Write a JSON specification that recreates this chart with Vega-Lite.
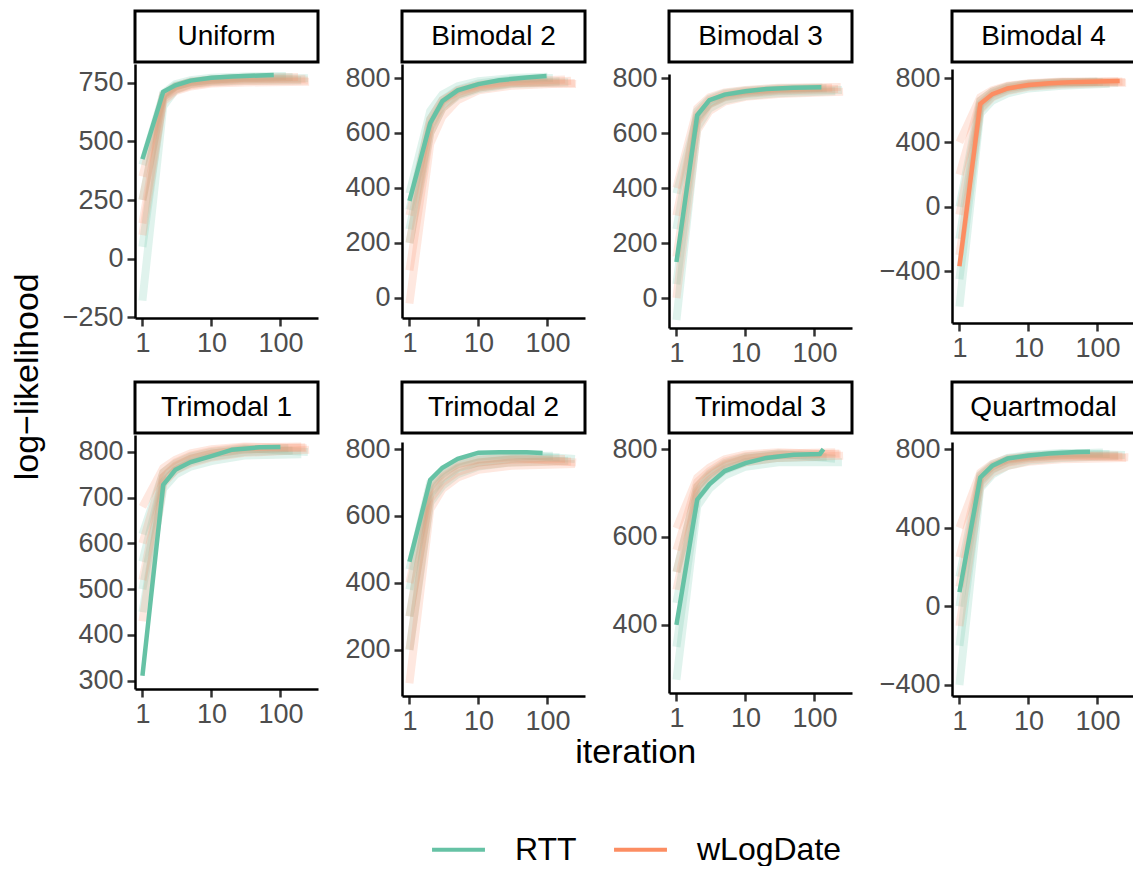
{
"$schema": "https://vega.github.io/schema/vega-lite/v6.json",
"padding": {"left": 10, "top": 9, "right": 0, "bottom": 0},
"background": "white",
"config": {
 "font": "Liberation Sans",
 "view": {"stroke": null},
 "concat": {"spacing": 20},
 "axis": {"grid": false, "domainColor": "#000000", "domainWidth": 2.5, "tickColor": "#333333", "tickWidth": 2.5, "tickSize": 8, "labelFont": "Liberation Sans", "labelFontSize": 27, "labelColor": "#4d4d4d", "labelPadding": 4, "labelFlush": false, "labelOverlap": false},
 "legend": {"symbolType": "stroke", "symbolSize": 2800, "symbolStrokeWidth": 4, "symbolOpacity": 1, "labelFont": "Liberation Sans", "labelFontSize": 32, "labelColor": "#000000", "labelOffset": 28, "columnPadding": 29},
 "title": {"font": "Liberation Sans", "fontSize": 34, "fontWeight": "normal", "color": "#000000"}
},
"datasets": {
 "strips": [{"p":"U","n":"Uniform"},{"p":"B2","n":"Bimodal 2"},{"p":"B3","n":"Bimodal 3"},{"p":"B4","n":"Bimodal 4"},{"p":"T1","n":"Trimodal 1"},{"p":"T2","n":"Trimodal 2"},{"p":"T3","n":"Trimodal 3"},{"p":"Q","n":"Quartmodal"}],
 "best": [
  {"p":"U","m":"RTT","i":1,"v":425},{"p":"U","m":"RTT","i":2,"v":712},{"p":"U","m":"RTT","i":3,"v":740},{"p":"U","m":"RTT","i":5,"v":760},{"p":"U","m":"RTT","i":10,"v":772},{"p":"U","m":"RTT","i":20,"v":778},{"p":"U","m":"RTT","i":50,"v":782},{"p":"U","m":"RTT","i":80,"v":784},
  {"p":"B2","m":"RTT","i":1,"v":353},{"p":"B2","m":"RTT","i":2,"v":636},{"p":"B2","m":"RTT","i":3,"v":716},{"p":"B2","m":"RTT","i":5,"v":755},{"p":"B2","m":"RTT","i":10,"v":778},{"p":"B2","m":"RTT","i":20,"v":792},{"p":"B2","m":"RTT","i":50,"v":802},{"p":"B2","m":"RTT","i":97,"v":807},
  {"p":"B3","m":"RTT","i":1,"v":131},{"p":"B3","m":"RTT","i":2,"v":665},{"p":"B3","m":"RTT","i":3,"v":720},{"p":"B3","m":"RTT","i":5,"v":740},{"p":"B3","m":"RTT","i":10,"v":752},{"p":"B3","m":"RTT","i":20,"v":760},{"p":"B3","m":"RTT","i":50,"v":765},{"p":"B3","m":"RTT","i":126,"v":767},
  {"p":"B4","m":"wLogDate","i":1,"v":-369},{"p":"B4","m":"wLogDate","i":2,"v":639},{"p":"B4","m":"wLogDate","i":3,"v":700},{"p":"B4","m":"wLogDate","i":5,"v":735},{"p":"B4","m":"wLogDate","i":10,"v":757},{"p":"B4","m":"wLogDate","i":20,"v":768},{"p":"B4","m":"wLogDate","i":50,"v":776},{"p":"B4","m":"wLogDate","i":210,"v":781},
  {"p":"T1","m":"RTT","i":1,"v":311},{"p":"T1","m":"RTT","i":2,"v":728},{"p":"T1","m":"RTT","i":3,"v":761},{"p":"T1","m":"RTT","i":5,"v":778},{"p":"T1","m":"RTT","i":10,"v":791},{"p":"T1","m":"RTT","i":20,"v":805},{"p":"T1","m":"RTT","i":50,"v":810},{"p":"T1","m":"RTT","i":100,"v":811},
  {"p":"T2","m":"RTT","i":1,"v":463},{"p":"T2","m":"RTT","i":2,"v":708},{"p":"T2","m":"RTT","i":3,"v":744},{"p":"T2","m":"RTT","i":5,"v":771},{"p":"T2","m":"RTT","i":10,"v":789},{"p":"T2","m":"RTT","i":20,"v":790},{"p":"T2","m":"RTT","i":50,"v":790},{"p":"T2","m":"RTT","i":85,"v":788},
  {"p":"T3","m":"RTT","i":1,"v":400},{"p":"T3","m":"RTT","i":2,"v":685},{"p":"T3","m":"RTT","i":3,"v":720},{"p":"T3","m":"RTT","i":5,"v":750},{"p":"T3","m":"RTT","i":10,"v":768},{"p":"T3","m":"RTT","i":20,"v":780},{"p":"T3","m":"RTT","i":50,"v":787},{"p":"T3","m":"RTT","i":120,"v":789},{"p":"T3","m":"RTT","i":135,"v":800},
  {"p":"Q","m":"RTT","i":1,"v":72},{"p":"Q","m":"RTT","i":2,"v":655},{"p":"Q","m":"RTT","i":3,"v":716},{"p":"Q","m":"RTT","i":5,"v":752},{"p":"Q","m":"RTT","i":10,"v":767},{"p":"Q","m":"RTT","i":20,"v":777},{"p":"Q","m":"RTT","i":50,"v":785},{"p":"Q","m":"RTT","i":78,"v":787}
 ],
 "runs": [
  {"p":"U","m":"RTT","r":1,"i":1,"v":-180},{"p":"U","m":"RTT","r":1,"i":2,"v":650},{"p":"U","m":"RTT","r":1,"i":3,"v":720},{"p":"U","m":"RTT","r":1,"i":5,"v":745},{"p":"U","m":"RTT","r":1,"i":10,"v":755},{"p":"U","m":"RTT","r":1,"i":30,"v":760},{"p":"U","m":"RTT","r":1,"i":200,"v":762},
  {"p":"U","m":"RTT","r":2,"i":1,"v":50},{"p":"U","m":"RTT","r":2,"i":2,"v":690},{"p":"U","m":"RTT","r":2,"i":3,"v":735},{"p":"U","m":"RTT","r":2,"i":5,"v":755},{"p":"U","m":"RTT","r":2,"i":10,"v":765},{"p":"U","m":"RTT","r":2,"i":30,"v":772},{"p":"U","m":"RTT","r":2,"i":150,"v":775},
  {"p":"U","m":"RTT","r":3,"i":1,"v":250},{"p":"U","m":"RTT","r":3,"i":2,"v":705},{"p":"U","m":"RTT","r":3,"i":3,"v":745},{"p":"U","m":"RTT","r":3,"i":5,"v":762},{"p":"U","m":"RTT","r":3,"i":10,"v":772},{"p":"U","m":"RTT","r":3,"i":30,"v":778},{"p":"U","m":"RTT","r":3,"i":120,"v":780},
  {"p":"U","m":"RTT","r":4,"i":1,"v":400},{"p":"U","m":"RTT","r":4,"i":2,"v":700},{"p":"U","m":"RTT","r":4,"i":3,"v":738},{"p":"U","m":"RTT","r":4,"i":5,"v":752},{"p":"U","m":"RTT","r":4,"i":10,"v":762},{"p":"U","m":"RTT","r":4,"i":30,"v":768},{"p":"U","m":"RTT","r":4,"i":250,"v":770},
  {"p":"U","m":"wLogDate","r":5,"i":1,"v":100},{"p":"U","m":"wLogDate","r":5,"i":2,"v":670},{"p":"U","m":"wLogDate","r":5,"i":3,"v":715},{"p":"U","m":"wLogDate","r":5,"i":5,"v":735},{"p":"U","m":"wLogDate","r":5,"i":10,"v":748},{"p":"U","m":"wLogDate","r":5,"i":30,"v":752},{"p":"U","m":"wLogDate","r":5,"i":260,"v":755},
  {"p":"U","m":"wLogDate","r":6,"i":1,"v":250},{"p":"U","m":"wLogDate","r":6,"i":2,"v":690},{"p":"U","m":"wLogDate","r":6,"i":3,"v":725},{"p":"U","m":"wLogDate","r":6,"i":5,"v":745},{"p":"U","m":"wLogDate","r":6,"i":10,"v":758},{"p":"U","m":"wLogDate","r":6,"i":30,"v":765},{"p":"U","m":"wLogDate","r":6,"i":230,"v":768},
  {"p":"U","m":"wLogDate","r":7,"i":1,"v":350},{"p":"U","m":"wLogDate","r":7,"i":2,"v":700},{"p":"U","m":"wLogDate","r":7,"i":3,"v":735},{"p":"U","m":"wLogDate","r":7,"i":5,"v":755},{"p":"U","m":"wLogDate","r":7,"i":10,"v":765},{"p":"U","m":"wLogDate","r":7,"i":30,"v":772},{"p":"U","m":"wLogDate","r":7,"i":180,"v":775},
  {"p":"U","m":"wLogDate","r":8,"i":1,"v":150},{"p":"U","m":"wLogDate","r":8,"i":2,"v":680},{"p":"U","m":"wLogDate","r":8,"i":3,"v":720},{"p":"U","m":"wLogDate","r":8,"i":5,"v":740},{"p":"U","m":"wLogDate","r":8,"i":10,"v":752},{"p":"U","m":"wLogDate","r":8,"i":30,"v":758},{"p":"U","m":"wLogDate","r":8,"i":250,"v":760},

  {"p":"B2","m":"RTT","r":1,"i":1,"v":250},{"p":"B2","m":"RTT","r":1,"i":2,"v":620},{"p":"B2","m":"RTT","r":1,"i":3,"v":700},{"p":"B2","m":"RTT","r":1,"i":5,"v":740},{"p":"B2","m":"RTT","r":1,"i":10,"v":765},{"p":"B2","m":"RTT","r":1,"i":30,"v":782},{"p":"B2","m":"RTT","r":1,"i":150,"v":788},
  {"p":"B2","m":"RTT","r":2,"i":1,"v":320},{"p":"B2","m":"RTT","r":2,"i":2,"v":650},{"p":"B2","m":"RTT","r":2,"i":3,"v":720},{"p":"B2","m":"RTT","r":2,"i":5,"v":758},{"p":"B2","m":"RTT","r":2,"i":10,"v":780},{"p":"B2","m":"RTT","r":2,"i":30,"v":795},{"p":"B2","m":"RTT","r":2,"i":120,"v":800},
  {"p":"B2","m":"RTT","r":3,"i":1,"v":380},{"p":"B2","m":"RTT","r":3,"i":2,"v":680},{"p":"B2","m":"RTT","r":3,"i":3,"v":740},{"p":"B2","m":"RTT","r":3,"i":5,"v":770},{"p":"B2","m":"RTT","r":3,"i":10,"v":788},{"p":"B2","m":"RTT","r":3,"i":30,"v":800},{"p":"B2","m":"RTT","r":3,"i":100,"v":805},
  {"p":"B2","m":"RTT","r":4,"i":1,"v":200},{"p":"B2","m":"RTT","r":4,"i":2,"v":600},{"p":"B2","m":"RTT","r":4,"i":3,"v":690},{"p":"B2","m":"RTT","r":4,"i":5,"v":735},{"p":"B2","m":"RTT","r":4,"i":10,"v":760},{"p":"B2","m":"RTT","r":4,"i":30,"v":778},{"p":"B2","m":"RTT","r":4,"i":200,"v":785},
  {"p":"B2","m":"wLogDate","r":5,"i":1,"v":-20},{"p":"B2","m":"wLogDate","r":5,"i":2,"v":560},{"p":"B2","m":"wLogDate","r":5,"i":3,"v":660},{"p":"B2","m":"wLogDate","r":5,"i":5,"v":720},{"p":"B2","m":"wLogDate","r":5,"i":10,"v":755},{"p":"B2","m":"wLogDate","r":5,"i":30,"v":772},{"p":"B2","m":"wLogDate","r":5,"i":250,"v":782},
  {"p":"B2","m":"wLogDate","r":6,"i":1,"v":100},{"p":"B2","m":"wLogDate","r":6,"i":2,"v":600},{"p":"B2","m":"wLogDate","r":6,"i":3,"v":690},{"p":"B2","m":"wLogDate","r":6,"i":5,"v":740},{"p":"B2","m":"wLogDate","r":6,"i":10,"v":765},{"p":"B2","m":"wLogDate","r":6,"i":30,"v":780},{"p":"B2","m":"wLogDate","r":6,"i":220,"v":790},
  {"p":"B2","m":"wLogDate","r":7,"i":1,"v":200},{"p":"B2","m":"wLogDate","r":7,"i":2,"v":630},{"p":"B2","m":"wLogDate","r":7,"i":3,"v":710},{"p":"B2","m":"wLogDate","r":7,"i":5,"v":755},{"p":"B2","m":"wLogDate","r":7,"i":10,"v":775},{"p":"B2","m":"wLogDate","r":7,"i":30,"v":788},{"p":"B2","m":"wLogDate","r":7,"i":180,"v":795},
  {"p":"B2","m":"wLogDate","r":8,"i":1,"v":300},{"p":"B2","m":"wLogDate","r":8,"i":2,"v":650},{"p":"B2","m":"wLogDate","r":8,"i":3,"v":720},{"p":"B2","m":"wLogDate","r":8,"i":5,"v":750},{"p":"B2","m":"wLogDate","r":8,"i":10,"v":770},{"p":"B2","m":"wLogDate","r":8,"i":30,"v":785},{"p":"B2","m":"wLogDate","r":8,"i":260,"v":778},

  {"p":"B3","m":"RTT","r":1,"i":1,"v":-80},{"p":"B3","m":"RTT","r":1,"i":2,"v":620},{"p":"B3","m":"RTT","r":1,"i":3,"v":690},{"p":"B3","m":"RTT","r":1,"i":5,"v":720},{"p":"B3","m":"RTT","r":1,"i":10,"v":735},{"p":"B3","m":"RTT","r":1,"i":30,"v":745},{"p":"B3","m":"RTT","r":1,"i":200,"v":752},
  {"p":"B3","m":"RTT","r":2,"i":1,"v":50},{"p":"B3","m":"RTT","r":2,"i":2,"v":650},{"p":"B3","m":"RTT","r":2,"i":3,"v":710},{"p":"B3","m":"RTT","r":2,"i":5,"v":735},{"p":"B3","m":"RTT","r":2,"i":10,"v":748},{"p":"B3","m":"RTT","r":2,"i":30,"v":758},{"p":"B3","m":"RTT","r":2,"i":150,"v":763},
  {"p":"B3","m":"RTT","r":3,"i":1,"v":250},{"p":"B3","m":"RTT","r":3,"i":2,"v":680},{"p":"B3","m":"RTT","r":3,"i":3,"v":725},{"p":"B3","m":"RTT","r":3,"i":5,"v":745},{"p":"B3","m":"RTT","r":3,"i":10,"v":755},{"p":"B3","m":"RTT","r":3,"i":30,"v":763},{"p":"B3","m":"RTT","r":3,"i":130,"v":766},
  {"p":"B3","m":"RTT","r":4,"i":1,"v":380},{"p":"B3","m":"RTT","r":4,"i":2,"v":660},{"p":"B3","m":"RTT","r":4,"i":3,"v":705},{"p":"B3","m":"RTT","r":4,"i":5,"v":730},{"p":"B3","m":"RTT","r":4,"i":10,"v":742},{"p":"B3","m":"RTT","r":4,"i":30,"v":752},{"p":"B3","m":"RTT","r":4,"i":250,"v":757},
  {"p":"B3","m":"wLogDate","r":5,"i":1,"v":0},{"p":"B3","m":"wLogDate","r":5,"i":2,"v":610},{"p":"B3","m":"wLogDate","r":5,"i":3,"v":680},{"p":"B3","m":"wLogDate","r":5,"i":5,"v":715},{"p":"B3","m":"wLogDate","r":5,"i":10,"v":732},{"p":"B3","m":"wLogDate","r":5,"i":30,"v":742},{"p":"B3","m":"wLogDate","r":5,"i":260,"v":750},
  {"p":"B3","m":"wLogDate","r":6,"i":1,"v":150},{"p":"B3","m":"wLogDate","r":6,"i":2,"v":640},{"p":"B3","m":"wLogDate","r":6,"i":3,"v":705},{"p":"B3","m":"wLogDate","r":6,"i":5,"v":732},{"p":"B3","m":"wLogDate","r":6,"i":10,"v":745},{"p":"B3","m":"wLogDate","r":6,"i":30,"v":755},{"p":"B3","m":"wLogDate","r":6,"i":220,"v":760},
  {"p":"B3","m":"wLogDate","r":7,"i":1,"v":300},{"p":"B3","m":"wLogDate","r":7,"i":2,"v":670},{"p":"B3","m":"wLogDate","r":7,"i":3,"v":720},{"p":"B3","m":"wLogDate","r":7,"i":5,"v":742},{"p":"B3","m":"wLogDate","r":7,"i":10,"v":752},{"p":"B3","m":"wLogDate","r":7,"i":30,"v":760},{"p":"B3","m":"wLogDate","r":7,"i":180,"v":765},
  {"p":"B3","m":"wLogDate","r":8,"i":1,"v":400},{"p":"B3","m":"wLogDate","r":8,"i":2,"v":690},{"p":"B3","m":"wLogDate","r":8,"i":3,"v":730},{"p":"B3","m":"wLogDate","r":8,"i":5,"v":748},{"p":"B3","m":"wLogDate","r":8,"i":10,"v":757},{"p":"B3","m":"wLogDate","r":8,"i":30,"v":765},{"p":"B3","m":"wLogDate","r":8,"i":240,"v":768},

  {"p":"B4","m":"RTT","r":1,"i":1,"v":-620},{"p":"B4","m":"RTT","r":1,"i":2,"v":580},{"p":"B4","m":"RTT","r":1,"i":3,"v":660},{"p":"B4","m":"RTT","r":1,"i":5,"v":705},{"p":"B4","m":"RTT","r":1,"i":10,"v":735},{"p":"B4","m":"RTT","r":1,"i":30,"v":752},{"p":"B4","m":"RTT","r":1,"i":150,"v":765},
  {"p":"B4","m":"RTT","r":2,"i":1,"v":-450},{"p":"B4","m":"RTT","r":2,"i":2,"v":610},{"p":"B4","m":"RTT","r":2,"i":3,"v":685},{"p":"B4","m":"RTT","r":2,"i":5,"v":725},{"p":"B4","m":"RTT","r":2,"i":10,"v":750},{"p":"B4","m":"RTT","r":2,"i":30,"v":765},{"p":"B4","m":"RTT","r":2,"i":120,"v":775},
  {"p":"B4","m":"RTT","r":3,"i":1,"v":-200},{"p":"B4","m":"RTT","r":3,"i":2,"v":640},{"p":"B4","m":"RTT","r":3,"i":3,"v":705},{"p":"B4","m":"RTT","r":3,"i":5,"v":740},{"p":"B4","m":"RTT","r":3,"i":10,"v":760},{"p":"B4","m":"RTT","r":3,"i":30,"v":772},{"p":"B4","m":"RTT","r":3,"i":100,"v":778},
  {"p":"B4","m":"RTT","r":4,"i":1,"v":0},{"p":"B4","m":"RTT","r":4,"i":2,"v":660},{"p":"B4","m":"RTT","r":4,"i":3,"v":715},{"p":"B4","m":"RTT","r":4,"i":5,"v":748},{"p":"B4","m":"RTT","r":4,"i":10,"v":765},{"p":"B4","m":"RTT","r":4,"i":30,"v":776},{"p":"B4","m":"RTT","r":4,"i":200,"v":770},
  {"p":"B4","m":"wLogDate","r":5,"i":1,"v":-300},{"p":"B4","m":"wLogDate","r":5,"i":2,"v":600},{"p":"B4","m":"wLogDate","r":5,"i":3,"v":680},{"p":"B4","m":"wLogDate","r":5,"i":5,"v":720},{"p":"B4","m":"wLogDate","r":5,"i":10,"v":745},{"p":"B4","m":"wLogDate","r":5,"i":30,"v":760},{"p":"B4","m":"wLogDate","r":5,"i":260,"v":770},
  {"p":"B4","m":"wLogDate","r":6,"i":1,"v":-50},{"p":"B4","m":"wLogDate","r":6,"i":2,"v":630},{"p":"B4","m":"wLogDate","r":6,"i":3,"v":700},{"p":"B4","m":"wLogDate","r":6,"i":5,"v":735},{"p":"B4","m":"wLogDate","r":6,"i":10,"v":757},{"p":"B4","m":"wLogDate","r":6,"i":30,"v":770},{"p":"B4","m":"wLogDate","r":6,"i":230,"v":778},
  {"p":"B4","m":"wLogDate","r":7,"i":1,"v":200},{"p":"B4","m":"wLogDate","r":7,"i":2,"v":660},{"p":"B4","m":"wLogDate","r":7,"i":3,"v":715},{"p":"B4","m":"wLogDate","r":7,"i":5,"v":748},{"p":"B4","m":"wLogDate","r":7,"i":10,"v":765},{"p":"B4","m":"wLogDate","r":7,"i":30,"v":776},{"p":"B4","m":"wLogDate","r":7,"i":200,"v":780},
  {"p":"B4","m":"wLogDate","r":8,"i":1,"v":400},{"p":"B4","m":"wLogDate","r":8,"i":2,"v":680},{"p":"B4","m":"wLogDate","r":8,"i":3,"v":725},{"p":"B4","m":"wLogDate","r":8,"i":5,"v":752},{"p":"B4","m":"wLogDate","r":8,"i":10,"v":768},{"p":"B4","m":"wLogDate","r":8,"i":30,"v":778},{"p":"B4","m":"wLogDate","r":8,"i":250,"v":775},

  {"p":"T1","m":"RTT","r":1,"i":1,"v":450},{"p":"T1","m":"RTT","r":1,"i":2,"v":720},{"p":"T1","m":"RTT","r":1,"i":3,"v":750},{"p":"T1","m":"RTT","r":1,"i":5,"v":768},{"p":"T1","m":"RTT","r":1,"i":10,"v":780},{"p":"T1","m":"RTT","r":1,"i":30,"v":792},{"p":"T1","m":"RTT","r":1,"i":200,"v":795},
  {"p":"T1","m":"RTT","r":2,"i":1,"v":500},{"p":"T1","m":"RTT","r":2,"i":2,"v":735},{"p":"T1","m":"RTT","r":2,"i":3,"v":760},{"p":"T1","m":"RTT","r":2,"i":5,"v":778},{"p":"T1","m":"RTT","r":2,"i":10,"v":790},{"p":"T1","m":"RTT","r":2,"i":30,"v":800},{"p":"T1","m":"RTT","r":2,"i":150,"v":803},
  {"p":"T1","m":"RTT","r":3,"i":1,"v":560},{"p":"T1","m":"RTT","r":3,"i":2,"v":745},{"p":"T1","m":"RTT","r":3,"i":3,"v":768},{"p":"T1","m":"RTT","r":3,"i":5,"v":785},{"p":"T1","m":"RTT","r":3,"i":10,"v":796},{"p":"T1","m":"RTT","r":3,"i":30,"v":806},{"p":"T1","m":"RTT","r":3,"i":130,"v":808},
  {"p":"T1","m":"RTT","r":4,"i":1,"v":620},{"p":"T1","m":"RTT","r":4,"i":2,"v":755},{"p":"T1","m":"RTT","r":4,"i":3,"v":775},{"p":"T1","m":"RTT","r":4,"i":5,"v":790},{"p":"T1","m":"RTT","r":4,"i":10,"v":800},{"p":"T1","m":"RTT","r":4,"i":30,"v":808},{"p":"T1","m":"RTT","r":4,"i":250,"v":800},
  {"p":"T1","m":"wLogDate","r":5,"i":1,"v":430},{"p":"T1","m":"wLogDate","r":5,"i":2,"v":730},{"p":"T1","m":"wLogDate","r":5,"i":3,"v":760},{"p":"T1","m":"wLogDate","r":5,"i":5,"v":775},{"p":"T1","m":"wLogDate","r":5,"i":10,"v":788},{"p":"T1","m":"wLogDate","r":5,"i":30,"v":798},{"p":"T1","m":"wLogDate","r":5,"i":260,"v":805},
  {"p":"T1","m":"wLogDate","r":6,"i":1,"v":520},{"p":"T1","m":"wLogDate","r":6,"i":2,"v":745},{"p":"T1","m":"wLogDate","r":6,"i":3,"v":770},{"p":"T1","m":"wLogDate","r":6,"i":5,"v":785},{"p":"T1","m":"wLogDate","r":6,"i":10,"v":796},{"p":"T1","m":"wLogDate","r":6,"i":30,"v":805},{"p":"T1","m":"wLogDate","r":6,"i":230,"v":810},
  {"p":"T1","m":"wLogDate","r":7,"i":1,"v":600},{"p":"T1","m":"wLogDate","r":7,"i":2,"v":755},{"p":"T1","m":"wLogDate","r":7,"i":3,"v":777},{"p":"T1","m":"wLogDate","r":7,"i":5,"v":792},{"p":"T1","m":"wLogDate","r":7,"i":10,"v":802},{"p":"T1","m":"wLogDate","r":7,"i":30,"v":810},{"p":"T1","m":"wLogDate","r":7,"i":200,"v":812},
  {"p":"T1","m":"wLogDate","r":8,"i":1,"v":680},{"p":"T1","m":"wLogDate","r":8,"i":2,"v":765},{"p":"T1","m":"wLogDate","r":8,"i":3,"v":783},{"p":"T1","m":"wLogDate","r":8,"i":5,"v":797},{"p":"T1","m":"wLogDate","r":8,"i":10,"v":806},{"p":"T1","m":"wLogDate","r":8,"i":30,"v":812},{"p":"T1","m":"wLogDate","r":8,"i":240,"v":808},

  {"p":"T2","m":"RTT","r":1,"i":1,"v":200},{"p":"T2","m":"RTT","r":1,"i":2,"v":640},{"p":"T2","m":"RTT","r":1,"i":3,"v":690},{"p":"T2","m":"RTT","r":1,"i":5,"v":725},{"p":"T2","m":"RTT","r":1,"i":10,"v":748},{"p":"T2","m":"RTT","r":1,"i":30,"v":760},{"p":"T2","m":"RTT","r":1,"i":200,"v":765},
  {"p":"T2","m":"RTT","r":2,"i":1,"v":300},{"p":"T2","m":"RTT","r":2,"i":2,"v":665},{"p":"T2","m":"RTT","r":2,"i":3,"v":710},{"p":"T2","m":"RTT","r":2,"i":5,"v":742},{"p":"T2","m":"RTT","r":2,"i":10,"v":760},{"p":"T2","m":"RTT","r":2,"i":30,"v":770},{"p":"T2","m":"RTT","r":2,"i":150,"v":775},
  {"p":"T2","m":"RTT","r":3,"i":1,"v":380},{"p":"T2","m":"RTT","r":3,"i":2,"v":685},{"p":"T2","m":"RTT","r":3,"i":3,"v":725},{"p":"T2","m":"RTT","r":3,"i":5,"v":755},{"p":"T2","m":"RTT","r":3,"i":10,"v":770},{"p":"T2","m":"RTT","r":3,"i":30,"v":778},{"p":"T2","m":"RTT","r":3,"i":120,"v":780},
  {"p":"T2","m":"RTT","r":4,"i":1,"v":440},{"p":"T2","m":"RTT","r":4,"i":2,"v":700},{"p":"T2","m":"RTT","r":4,"i":3,"v":735},{"p":"T2","m":"RTT","r":4,"i":5,"v":762},{"p":"T2","m":"RTT","r":4,"i":10,"v":778},{"p":"T2","m":"RTT","r":4,"i":30,"v":784},{"p":"T2","m":"RTT","r":4,"i":250,"v":770},
  {"p":"T2","m":"wLogDate","r":5,"i":1,"v":100},{"p":"T2","m":"wLogDate","r":5,"i":2,"v":620},{"p":"T2","m":"wLogDate","r":5,"i":3,"v":680},{"p":"T2","m":"wLogDate","r":5,"i":5,"v":715},{"p":"T2","m":"wLogDate","r":5,"i":10,"v":738},{"p":"T2","m":"wLogDate","r":5,"i":30,"v":750},{"p":"T2","m":"wLogDate","r":5,"i":250,"v":755},
  {"p":"T2","m":"wLogDate","r":6,"i":1,"v":200},{"p":"T2","m":"wLogDate","r":6,"i":2,"v":650},{"p":"T2","m":"wLogDate","r":6,"i":3,"v":700},{"p":"T2","m":"wLogDate","r":6,"i":5,"v":732},{"p":"T2","m":"wLogDate","r":6,"i":10,"v":750},{"p":"T2","m":"wLogDate","r":6,"i":30,"v":760},{"p":"T2","m":"wLogDate","r":6,"i":220,"v":763},
  {"p":"T2","m":"wLogDate","r":7,"i":1,"v":300},{"p":"T2","m":"wLogDate","r":7,"i":2,"v":670},{"p":"T2","m":"wLogDate","r":7,"i":3,"v":715},{"p":"T2","m":"wLogDate","r":7,"i":5,"v":745},{"p":"T2","m":"wLogDate","r":7,"i":10,"v":760},{"p":"T2","m":"wLogDate","r":7,"i":30,"v":768},{"p":"T2","m":"wLogDate","r":7,"i":180,"v":770},
  {"p":"T2","m":"wLogDate","r":8,"i":1,"v":400},{"p":"T2","m":"wLogDate","r":8,"i":2,"v":690},{"p":"T2","m":"wLogDate","r":8,"i":3,"v":730},{"p":"T2","m":"wLogDate","r":8,"i":5,"v":755},{"p":"T2","m":"wLogDate","r":8,"i":10,"v":768},{"p":"T2","m":"wLogDate","r":8,"i":30,"v":775},{"p":"T2","m":"wLogDate","r":8,"i":260,"v":760},

  {"p":"T3","m":"RTT","r":1,"i":1,"v":275},{"p":"T3","m":"RTT","r":1,"i":2,"v":670},{"p":"T3","m":"RTT","r":1,"i":3,"v":710},{"p":"T3","m":"RTT","r":1,"i":5,"v":740},{"p":"T3","m":"RTT","r":1,"i":10,"v":760},{"p":"T3","m":"RTT","r":1,"i":30,"v":770},{"p":"T3","m":"RTT","r":1,"i":250,"v":770},
  {"p":"T3","m":"RTT","r":2,"i":1,"v":350},{"p":"T3","m":"RTT","r":2,"i":2,"v":690},{"p":"T3","m":"RTT","r":2,"i":3,"v":725},{"p":"T3","m":"RTT","r":2,"i":5,"v":752},{"p":"T3","m":"RTT","r":2,"i":10,"v":770},{"p":"T3","m":"RTT","r":2,"i":30,"v":780},{"p":"T3","m":"RTT","r":2,"i":150,"v":782},
  {"p":"T3","m":"RTT","r":3,"i":1,"v":450},{"p":"T3","m":"RTT","r":3,"i":2,"v":705},{"p":"T3","m":"RTT","r":3,"i":3,"v":738},{"p":"T3","m":"RTT","r":3,"i":5,"v":762},{"p":"T3","m":"RTT","r":3,"i":10,"v":778},{"p":"T3","m":"RTT","r":3,"i":30,"v":787},{"p":"T3","m":"RTT","r":3,"i":120,"v":788},
  {"p":"T3","m":"RTT","r":4,"i":1,"v":520},{"p":"T3","m":"RTT","r":4,"i":2,"v":715},{"p":"T3","m":"RTT","r":4,"i":3,"v":745},{"p":"T3","m":"RTT","r":4,"i":5,"v":768},{"p":"T3","m":"RTT","r":4,"i":10,"v":782},{"p":"T3","m":"RTT","r":4,"i":30,"v":790},{"p":"T3","m":"RTT","r":4,"i":200,"v":778},
  {"p":"T3","m":"wLogDate","r":5,"i":1,"v":480},{"p":"T3","m":"wLogDate","r":5,"i":2,"v":700},{"p":"T3","m":"wLogDate","r":5,"i":3,"v":730},{"p":"T3","m":"wLogDate","r":5,"i":5,"v":755},{"p":"T3","m":"wLogDate","r":5,"i":10,"v":770},{"p":"T3","m":"wLogDate","r":5,"i":30,"v":780},{"p":"T3","m":"wLogDate","r":5,"i":260,"v":785},
  {"p":"T3","m":"wLogDate","r":6,"i":1,"v":520},{"p":"T3","m":"wLogDate","r":6,"i":2,"v":715},{"p":"T3","m":"wLogDate","r":6,"i":3,"v":742},{"p":"T3","m":"wLogDate","r":6,"i":5,"v":765},{"p":"T3","m":"wLogDate","r":6,"i":10,"v":778},{"p":"T3","m":"wLogDate","r":6,"i":30,"v":786},{"p":"T3","m":"wLogDate","r":6,"i":230,"v":790},
  {"p":"T3","m":"wLogDate","r":7,"i":1,"v":570},{"p":"T3","m":"wLogDate","r":7,"i":2,"v":725},{"p":"T3","m":"wLogDate","r":7,"i":3,"v":750},{"p":"T3","m":"wLogDate","r":7,"i":5,"v":772},{"p":"T3","m":"wLogDate","r":7,"i":10,"v":784},{"p":"T3","m":"wLogDate","r":7,"i":30,"v":790},{"p":"T3","m":"wLogDate","r":7,"i":200,"v":793},
  {"p":"T3","m":"wLogDate","r":8,"i":1,"v":620},{"p":"T3","m":"wLogDate","r":8,"i":2,"v":735},{"p":"T3","m":"wLogDate","r":8,"i":3,"v":758},{"p":"T3","m":"wLogDate","r":8,"i":5,"v":777},{"p":"T3","m":"wLogDate","r":8,"i":10,"v":788},{"p":"T3","m":"wLogDate","r":8,"i":30,"v":793},{"p":"T3","m":"wLogDate","r":8,"i":240,"v":788},

  {"p":"Q","m":"RTT","r":1,"i":1,"v":-400},{"p":"Q","m":"RTT","r":1,"i":2,"v":600},{"p":"Q","m":"RTT","r":1,"i":3,"v":670},{"p":"Q","m":"RTT","r":1,"i":5,"v":715},{"p":"Q","m":"RTT","r":1,"i":10,"v":740},{"p":"Q","m":"RTT","r":1,"i":30,"v":755},{"p":"Q","m":"RTT","r":1,"i":200,"v":765},
  {"p":"Q","m":"RTT","r":2,"i":1,"v":-200},{"p":"Q","m":"RTT","r":2,"i":2,"v":630},{"p":"Q","m":"RTT","r":2,"i":3,"v":695},{"p":"Q","m":"RTT","r":2,"i":5,"v":735},{"p":"Q","m":"RTT","r":2,"i":10,"v":755},{"p":"Q","m":"RTT","r":2,"i":30,"v":768},{"p":"Q","m":"RTT","r":2,"i":150,"v":775},
  {"p":"Q","m":"RTT","r":3,"i":1,"v":0},{"p":"Q","m":"RTT","r":3,"i":2,"v":655},{"p":"Q","m":"RTT","r":3,"i":3,"v":712},{"p":"Q","m":"RTT","r":3,"i":5,"v":748},{"p":"Q","m":"RTT","r":3,"i":10,"v":765},{"p":"Q","m":"RTT","r":3,"i":30,"v":776},{"p":"Q","m":"RTT","r":3,"i":120,"v":782},
  {"p":"Q","m":"RTT","r":4,"i":1,"v":150},{"p":"Q","m":"RTT","r":4,"i":2,"v":670},{"p":"Q","m":"RTT","r":4,"i":3,"v":722},{"p":"Q","m":"RTT","r":4,"i":5,"v":755},{"p":"Q","m":"RTT","r":4,"i":10,"v":770},{"p":"Q","m":"RTT","r":4,"i":30,"v":780},{"p":"Q","m":"RTT","r":4,"i":250,"v":770},
  {"p":"Q","m":"wLogDate","r":5,"i":1,"v":-100},{"p":"Q","m":"wLogDate","r":5,"i":2,"v":610},{"p":"Q","m":"wLogDate","r":5,"i":3,"v":680},{"p":"Q","m":"wLogDate","r":5,"i":5,"v":715},{"p":"Q","m":"wLogDate","r":5,"i":10,"v":735},{"p":"Q","m":"wLogDate","r":5,"i":30,"v":748},{"p":"Q","m":"wLogDate","r":5,"i":260,"v":755},
  {"p":"Q","m":"wLogDate","r":6,"i":1,"v":100},{"p":"Q","m":"wLogDate","r":6,"i":2,"v":640},{"p":"Q","m":"wLogDate","r":6,"i":3,"v":700},{"p":"Q","m":"wLogDate","r":6,"i":5,"v":732},{"p":"Q","m":"wLogDate","r":6,"i":10,"v":748},{"p":"Q","m":"wLogDate","r":6,"i":30,"v":758},{"p":"Q","m":"wLogDate","r":6,"i":230,"v":762},
  {"p":"Q","m":"wLogDate","r":7,"i":1,"v":250},{"p":"Q","m":"wLogDate","r":7,"i":2,"v":665},{"p":"Q","m":"wLogDate","r":7,"i":3,"v":715},{"p":"Q","m":"wLogDate","r":7,"i":5,"v":745},{"p":"Q","m":"wLogDate","r":7,"i":10,"v":758},{"p":"Q","m":"wLogDate","r":7,"i":30,"v":766},{"p":"Q","m":"wLogDate","r":7,"i":200,"v":768},
  {"p":"Q","m":"wLogDate","r":8,"i":1,"v":400},{"p":"Q","m":"wLogDate","r":8,"i":2,"v":680},{"p":"Q","m":"wLogDate","r":8,"i":3,"v":725},{"p":"Q","m":"wLogDate","r":8,"i":5,"v":752},{"p":"Q","m":"wLogDate","r":8,"i":10,"v":763},{"p":"Q","m":"wLogDate","r":8,"i":30,"v":770},{"p":"Q","m":"wLogDate","r":8,"i":280,"v":758}
 ]
},
"vconcat": [
 {
  "title": {"text": "log−likelihood", "orient": "left", "anchor": "middle", "offset": 12, "dx": 13},
  "hconcat": [
   {
    "title": {"text": "iteration", "orient": "bottom", "anchor": "middle", "offset": 2, "dx": 39},
    "spacing": 14,
    "vconcat": [
     {"spacing": 20, "hconcat": [
      {"spacing": 0, "vconcat": [
       {"width": 183, "height": 51, "data": {"name": "strips"}, "transform": [{"filter": "datum.p==='U'"}], "mark": {"type": "text", "fontSize": 28, "color": "#000000", "font": "Liberation Sans"}, "encoding": {"text": {"field": "n", "type": "nominal"}}, "view": {"stroke": "#000000", "strokeWidth": 3}},
       {"width": 183, "height": 254,
        "encoding": {
         "x": {"field": "i", "type": "quantitative", "scale": {"type": "log", "domain": [0.78, 350], "nice": false}, "axis": {"values": [1, 10, 100], "format": "d", "title": null}},
         "y": {"field": "v", "type": "quantitative", "scale": {"domain": [-254, 831], "nice": false, "zero": false}, "axis": {"values": [-250, 0, 250, 500, 750], "title": null, "minExtent": 78, "maxExtent": 78, "labelExpr": "replace(datum.label, '-', '−')"}},
         "color": {"field": "m", "type": "nominal", "title": null, "scale": {"domain": ["RTT", "wLogDate"], "range": ["#66c2a5", "#fc8d62"]}, "legend": {"orient": "none", "direction": "horizontal", "title": null, "legendX": 295, "legendY": 810}}
        },
        "layer": [
         {"data": {"name": "runs"}, "transform": [{"filter": "datum.p==='U'"}], "mark": {"type": "line", "strokeWidth": 8, "opacity": 0.2, "clip": true}, "encoding": {"detail": {"field": "r", "type": "nominal"}}},
         {"data": {"name": "best"}, "transform": [{"filter": "datum.p==='U'"}], "mark": {"type": "line", "strokeWidth": 4.5, "clip": true}}
        ]}
      ]},
      {"spacing": 0, "vconcat": [
       {"width": 183, "height": 51, "data": {"name": "strips"}, "transform": [{"filter": "datum.p==='B2'"}], "mark": {"type": "text", "fontSize": 28, "color": "#000000", "font": "Liberation Sans"}, "encoding": {"text": {"field": "n", "type": "nominal"}}, "view": {"stroke": "#000000", "strokeWidth": 3}},
       {"width": 183, "height": 254,
        "encoding": {
         "x": {"field": "i", "type": "quantitative", "scale": {"type": "log", "domain": [0.78, 350], "nice": false}, "axis": {"values": [1, 10, 100], "format": "d", "title": null}},
         "y": {"field": "v", "type": "quantitative", "scale": {"domain": [-73, 851], "nice": false, "zero": false}, "axis": {"values": [0, 200, 400, 600, 800], "title": null, "minExtent": 62, "maxExtent": 62}},
         "color": {"field": "m", "type": "nominal", "title": null, "scale": {"domain": ["RTT", "wLogDate"], "range": ["#66c2a5", "#fc8d62"]}}
        },
        "layer": [
         {"data": {"name": "runs"}, "transform": [{"filter": "datum.p==='B2'"}], "mark": {"type": "line", "strokeWidth": 8, "opacity": 0.2, "clip": true}, "encoding": {"detail": {"field": "r", "type": "nominal"}}},
         {"data": {"name": "best"}, "transform": [{"filter": "datum.p==='B2'"}], "mark": {"type": "line", "strokeWidth": 4.5, "clip": true}}
        ]}
      ]},
      {"spacing": 0, "vconcat": [
       {"width": 183, "height": 51, "data": {"name": "strips"}, "transform": [{"filter": "datum.p==='B3'"}], "mark": {"type": "text", "fontSize": 28, "color": "#000000", "font": "Liberation Sans"}, "encoding": {"text": {"field": "n", "type": "nominal"}}, "view": {"stroke": "#000000", "strokeWidth": 3}},
       {"width": 183, "height": 254,
        "encoding": {
         "x": {"field": "i", "type": "quantitative", "scale": {"type": "log", "domain": [0.78, 350], "nice": false}, "axis": {"values": [1, 10, 100], "format": "d", "title": null}},
         "y": {"field": "v", "type": "quantitative", "scale": {"domain": [-109, 815], "nice": false, "zero": false}, "axis": {"values": [0, 200, 400, 600, 800], "title": null, "minExtent": 62, "maxExtent": 62}},
         "color": {"field": "m", "type": "nominal", "title": null, "scale": {"domain": ["RTT", "wLogDate"], "range": ["#66c2a5", "#fc8d62"]}}
        },
        "layer": [
         {"data": {"name": "runs"}, "transform": [{"filter": "datum.p==='B3'"}], "mark": {"type": "line", "strokeWidth": 8, "opacity": 0.2, "clip": true}, "encoding": {"detail": {"field": "r", "type": "nominal"}}},
         {"data": {"name": "best"}, "transform": [{"filter": "datum.p==='B3'"}], "mark": {"type": "line", "strokeWidth": 4.5, "clip": true}}
        ]}
      ]},
      {"spacing": 0, "vconcat": [
       {"width": 183, "height": 51, "data": {"name": "strips"}, "transform": [{"filter": "datum.p==='B4'"}], "mark": {"type": "text", "fontSize": 28, "color": "#000000", "font": "Liberation Sans"}, "encoding": {"text": {"field": "n", "type": "nominal"}}, "view": {"stroke": "#000000", "strokeWidth": 3}},
       {"width": 183, "height": 254,
        "encoding": {
         "x": {"field": "i", "type": "quantitative", "scale": {"type": "log", "domain": [0.78, 350], "nice": false}, "axis": {"values": [1, 10, 100], "format": "d", "title": null}},
         "y": {"field": "v", "type": "quantitative", "scale": {"domain": [-722, 856], "nice": false, "zero": false}, "axis": {"values": [-400, 0, 400, 800], "title": null, "minExtent": 78, "maxExtent": 78, "labelExpr": "replace(datum.label, '-', '−')"}},
         "color": {"field": "m", "type": "nominal", "title": null, "scale": {"domain": ["RTT", "wLogDate"], "range": ["#66c2a5", "#fc8d62"]}}
        },
        "layer": [
         {"data": {"name": "runs"}, "transform": [{"filter": "datum.p==='B4'"}], "mark": {"type": "line", "strokeWidth": 8, "opacity": 0.2, "clip": true}, "encoding": {"detail": {"field": "r", "type": "nominal"}}},
         {"data": {"name": "best"}, "transform": [{"filter": "datum.p==='B4'"}], "mark": {"type": "line", "strokeWidth": 4.5, "clip": true}}
        ]}
      ]}
     ]},
     {"spacing": 20, "hconcat": [
      {"spacing": 0, "vconcat": [
       {"width": 183, "height": 51, "data": {"name": "strips"}, "transform": [{"filter": "datum.p==='T1'"}], "mark": {"type": "text", "fontSize": 28, "color": "#000000", "font": "Liberation Sans"}, "encoding": {"text": {"field": "n", "type": "nominal"}}, "view": {"stroke": "#000000", "strokeWidth": 3}},
       {"width": 183, "height": 254,
        "encoding": {
         "x": {"field": "i", "type": "quantitative", "scale": {"type": "log", "domain": [0.78, 350], "nice": false}, "axis": {"values": [1, 10, 100], "format": "d", "title": null}},
         "y": {"field": "v", "type": "quantitative", "scale": {"domain": [282, 837], "nice": false, "zero": false}, "axis": {"values": [300, 400, 500, 600, 700, 800], "title": null, "minExtent": 78, "maxExtent": 78}},
         "color": {"field": "m", "type": "nominal", "title": null, "scale": {"domain": ["RTT", "wLogDate"], "range": ["#66c2a5", "#fc8d62"]}}
        },
        "layer": [
         {"data": {"name": "runs"}, "transform": [{"filter": "datum.p==='T1'"}], "mark": {"type": "line", "strokeWidth": 8, "opacity": 0.2, "clip": true}, "encoding": {"detail": {"field": "r", "type": "nominal"}}},
         {"data": {"name": "best"}, "transform": [{"filter": "datum.p==='T1'"}], "mark": {"type": "line", "strokeWidth": 4.5, "clip": true}}
        ]}
      ]},
      {"spacing": 0, "vconcat": [
       {"width": 183, "height": 51, "data": {"name": "strips"}, "transform": [{"filter": "datum.p==='T2'"}], "mark": {"type": "text", "fontSize": 28, "color": "#000000", "font": "Liberation Sans"}, "encoding": {"text": {"field": "n", "type": "nominal"}}, "view": {"stroke": "#000000", "strokeWidth": 3}},
       {"width": 183, "height": 254,
        "encoding": {
         "x": {"field": "i", "type": "quantitative", "scale": {"type": "log", "domain": [0.78, 350], "nice": false}, "axis": {"values": [1, 10, 100], "format": "d", "title": null}},
         "y": {"field": "v", "type": "quantitative", "scale": {"domain": [62, 821], "nice": false, "zero": false}, "axis": {"values": [200, 400, 600, 800], "title": null, "minExtent": 62, "maxExtent": 62}},
         "color": {"field": "m", "type": "nominal", "title": null, "scale": {"domain": ["RTT", "wLogDate"], "range": ["#66c2a5", "#fc8d62"]}}
        },
        "layer": [
         {"data": {"name": "runs"}, "transform": [{"filter": "datum.p==='T2'"}], "mark": {"type": "line", "strokeWidth": 8, "opacity": 0.2, "clip": true}, "encoding": {"detail": {"field": "r", "type": "nominal"}}},
         {"data": {"name": "best"}, "transform": [{"filter": "datum.p==='T2'"}], "mark": {"type": "line", "strokeWidth": 4.5, "clip": true}}
        ]}
      ]},
      {"spacing": 0, "vconcat": [
       {"width": 183, "height": 51, "data": {"name": "strips"}, "transform": [{"filter": "datum.p==='T3'"}], "mark": {"type": "text", "fontSize": 28, "color": "#000000", "font": "Liberation Sans"}, "encoding": {"text": {"field": "n", "type": "nominal"}}, "view": {"stroke": "#000000", "strokeWidth": 3}},
       {"width": 183, "height": 254,
        "encoding": {
         "x": {"field": "i", "type": "quantitative", "scale": {"type": "log", "domain": [0.78, 350], "nice": false}, "axis": {"values": [1, 10, 100], "format": "d", "title": null}},
         "y": {"field": "v", "type": "quantitative", "scale": {"domain": [245, 823], "nice": false, "zero": false}, "axis": {"values": [400, 600, 800], "title": null, "minExtent": 62, "maxExtent": 62}},
         "color": {"field": "m", "type": "nominal", "title": null, "scale": {"domain": ["RTT", "wLogDate"], "range": ["#66c2a5", "#fc8d62"]}}
        },
        "layer": [
         {"data": {"name": "runs"}, "transform": [{"filter": "datum.p==='T3'"}], "mark": {"type": "line", "strokeWidth": 8, "opacity": 0.2, "clip": true}, "encoding": {"detail": {"field": "r", "type": "nominal"}}},
         {"data": {"name": "best"}, "transform": [{"filter": "datum.p==='T3'"}], "mark": {"type": "line", "strokeWidth": 4.5, "clip": true}}
        ]}
      ]},
      {"spacing": 0, "vconcat": [
       {"width": 183, "height": 51, "data": {"name": "strips"}, "transform": [{"filter": "datum.p==='Q'"}], "mark": {"type": "text", "fontSize": 28, "color": "#000000", "font": "Liberation Sans"}, "encoding": {"text": {"field": "n", "type": "nominal"}}, "view": {"stroke": "#000000", "strokeWidth": 3}},
       {"width": 183, "height": 254,
        "encoding": {
         "x": {"field": "i", "type": "quantitative", "scale": {"type": "log", "domain": [0.78, 350], "nice": false}, "axis": {"values": [1, 10, 100], "format": "d", "title": null}},
         "y": {"field": "v", "type": "quantitative", "scale": {"domain": [-456, 836], "nice": false, "zero": false}, "axis": {"values": [-400, 0, 400, 800], "title": null, "minExtent": 78, "maxExtent": 78, "labelExpr": "replace(datum.label, '-', '−')"}},
         "color": {"field": "m", "type": "nominal", "title": null, "scale": {"domain": ["RTT", "wLogDate"], "range": ["#66c2a5", "#fc8d62"]}}
        },
        "layer": [
         {"data": {"name": "runs"}, "transform": [{"filter": "datum.p==='Q'"}], "mark": {"type": "line", "strokeWidth": 8, "opacity": 0.2, "clip": true}, "encoding": {"detail": {"field": "r", "type": "nominal"}}},
         {"data": {"name": "best"}, "transform": [{"filter": "datum.p==='Q'"}], "mark": {"type": "line", "strokeWidth": 4.5, "clip": true}}
        ]}
      ]}
     ]}
    ]
   }
  ]
 }
]
}
